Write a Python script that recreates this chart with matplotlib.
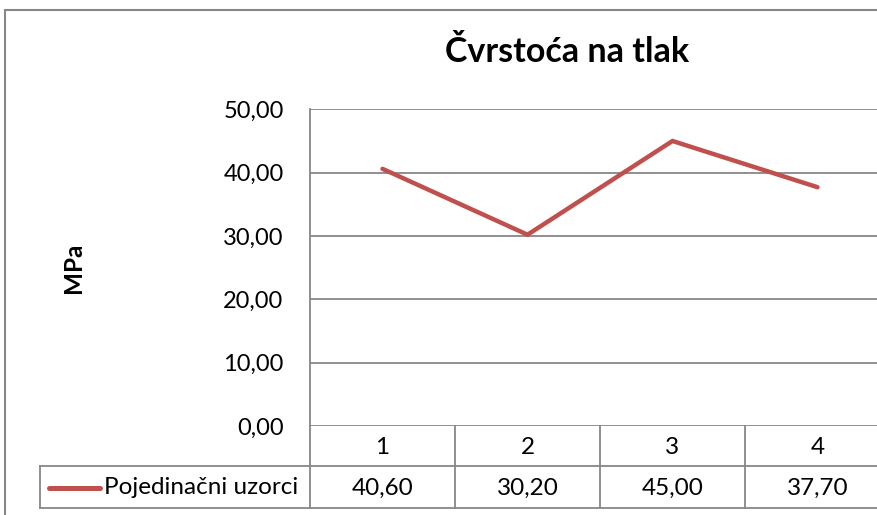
import matplotlib
matplotlib.use("Agg")
import matplotlib.pyplot as plt
from matplotlib.patches import Rectangle
from matplotlib.lines import Line2D
import matplotlib.transforms as mtransforms

# Data
categories = ["1", "2", "3", "4"]
values = [40.60, 30.20, 45.00, 37.70]
series_name = "Pojedinačni uzorci"
title = "Čvrstoća na tlak"
y_label = "MPa"
y_ticks = [0, 10, 20, 30, 40, 50]

W, H = 877, 515
DPI = 100
LINE_COLOR = "#C0504D"
GRID_COLOR = "#878787"
FONT = ["Lato", "DejaVu Sans"]

plt.rcParams["font.family"] = FONT

fig = plt.figure(figsize=(W / DPI, H / DPI), dpi=DPI)
fig.patch.set_facecolor("white")


def fx(px):
    return px / W


def fy(py):
    return 1 - py / H


def fmt(v):
    return f"{v:.2f}".replace(".", ",")


# plot area in pixel coordinates (extends past the right edge)
left_px, right_px = 310, 890
top_px, bottom_px = 109.3, 426
ax = fig.add_axes([fx(left_px), fy(bottom_px), fx(right_px - left_px),
                   (bottom_px - top_px) / H])

x = list(range(1, len(categories) + 1))
ax.plot(x, values, color=LINE_COLOR, lw=3.2, solid_capstyle="round",
        solid_joinstyle="miter", zorder=3)

ax.set_xlim(0.5, len(categories) + 0.5)
ax.set_ylim(0, 50)
ax.set_yticks(y_ticks)
ax.set_yticklabels([fmt(v) for v in y_ticks], fontsize=17, color="black")
ax.tick_params(axis="y", length=0, pad=19)
ax.set_xticks([])
ax.yaxis.grid(True, color=GRID_COLOR, lw=1.3)
ax.set_axisbelow(True)
for side in ["top", "right", "bottom"]:
    ax.spines[side].set_visible(False)
ax.spines["left"].set_color(GRID_COLOR)
ax.spines["left"].set_linewidth(1.3)

ax.set_ylabel(y_label, fontsize=17.5, fontweight="bold", labelpad=0,
              va="center")
ax.yaxis.set_label_coords((73 - left_px) / (right_px - left_px),
                          (bottom_px - 268) / (bottom_px - top_px))

# data table below the plot area (x in data units, y in figure fraction)
trans = mtransforms.blended_transform_factory(ax.transData, fig.transFigure)

row1_top, row_mid, row_bot = 426, 466, 508
table_left_px = 40
lw_t = 1.3


def hline(y_px, x0_px, x1_px):
    fig.add_artist(Line2D([fx(x0_px), fx(x1_px)], [fy(y_px), fy(y_px)],
                          color=GRID_COLOR, lw=lw_t, transform=fig.transFigure))


def vline(x_data, y0_px, y1_px):
    fig.add_artist(Line2D([x_data, x_data], [fy(y0_px), fy(y1_px)],
                          color=GRID_COLOR, lw=lw_t, transform=trans))


hline(row_mid, table_left_px, W + 20)
hline(row_bot, table_left_px, W + 20)
fig.add_artist(Line2D([fx(table_left_px)] * 2, [fy(row_mid), fy(row_bot)],
                      color=GRID_COLOR, lw=lw_t, transform=fig.transFigure))
for k in range(len(categories) + 1):
    vline(0.5 + k, row1_top, row_bot)

for xi, cat, val in zip(x, categories, values):
    fig.text(xi, fy((row1_top + row_mid) / 2 + 1), cat, fontsize=17.5,
             ha="center", va="center", transform=trans)
    fig.text(xi, fy((row_mid + row_bot) / 2 + 1), fmt(val), fontsize=17.5,
             ha="center", va="center", transform=trans)

# legend key inside the table
fig.add_artist(Line2D([fx(49), fx(100)], [fy(488), fy(488)], color=LINE_COLOR,
                      lw=3.6, solid_capstyle="round", transform=fig.transFigure))
fig.text(fx(104), fy(488), series_name, fontsize=17.5, ha="left", va="center")

# title
fig.text(fx(567), fy(52), title, fontsize=24.5, fontweight="bold",
         ha="center", va="center")

# chart frame
fig.add_artist(Rectangle((fx(5), fy(H + 30)), fx(W + 30), fy(10) - fy(H + 30),
                         fill=False, edgecolor=GRID_COLOR, lw=1.5,
                         transform=fig.transFigure))

fig.savefig("out.png", dpi=DPI, facecolor="white")
